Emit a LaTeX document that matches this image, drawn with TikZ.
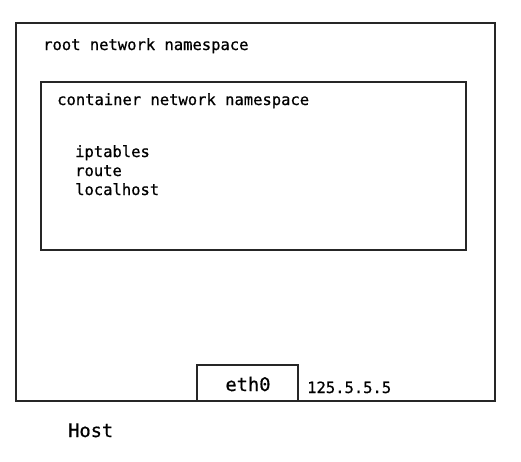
\documentclass[tikz,border=0pt]{standalone}
\usepackage{fontspec}
\newfontface\semimono{DejaVu Sans Mono}[FakeBold=0.7]
\begin{document}
\begin{tikzpicture}[x=1pt,y=-1pt,
  box/.style={draw=black!85,line width=1.1pt},
  lbl/.style={font=\semimono\fontsize{15.5}{18}\selectfont,anchor=base west,inner sep=0pt},
  big/.style={font=\semimono\fontsize{18.7}{22}\selectfont,inner sep=0pt}]
\useasboundingbox (0,0) rectangle (521,461);
\draw[box] (16,23) rectangle (495,401);
\node[lbl] (root) at (43,50) {root network namespace};
\draw[box] (41,82) rectangle (466,250);
\node[lbl] (cont) at (57,105) {container network namespace};
\node[lbl] (ipt) at (75,157) {iptables};
\node[lbl] (rt) at (75,176) {route};
\node[lbl] (lh) at (75,195) {localhost};
\draw[box,fill=white] (197,365) rectangle (298,401);
\node[big,anchor=base] (eth) at (248,391) {eth0};
\node[lbl] (ip) at (307,393) {125.5.5.5};
\node[big,anchor=base west] (host) at (68,437) {Host};
\end{tikzpicture}
\end{document}
